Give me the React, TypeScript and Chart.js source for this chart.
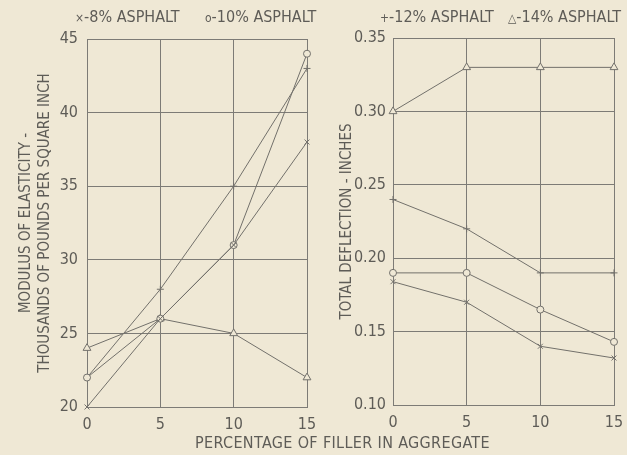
import React, { useEffect, useRef } from "react";
import { Chart, registerables } from "chart.js";

Chart.register(...registerables);

const fillerPct = [0, 5, 10, 15];
const modulus8 = [20, 26, 31, 38];
const modulus10 = [22, 26, 31, 44];
const modulus12 = [22, 28, 35, 43];
const modulus14 = [24, 26, 25, 22];
const deflection8 = [0.184, 0.17, 0.14, 0.132];
const deflection10 = [0.19, 0.19, 0.165, 0.143];
const deflection12 = [0.24, 0.22, 0.19, 0.19];
const deflection14 = [0.3, 0.33, 0.33, 0.33];
const seriesLabels = ["8% ASPHALT", "10% ASPHALT", "12% ASPHALT", "14% ASPHALT"];
const legendSymbols = ["×", "o", "+", "△"];

const BG = "#efe8d5";
const INK = "#5e5c57";
const LINE = "#72706b";
const GRID = "#7d7b76";
const FONT = "'Liberation Sans Narrow', 'DejaVu Sans Condensed', 'Liberation Sans', sans-serif";

const styles = ["crossRot", "circle", "cross", "triangle"];

function makeDatasets(series: number[][]) {
  return series.map((vals, i) => ({
    label: seriesLabels[i],
    data: fillerPct.map((x, j) => ({ x, y: vals[j] })),
    borderColor: LINE,
    borderWidth: 1,
    pointStyle: styles[i],
    pointRadius: styles[i] === "triangle" ? 4.5 : 3.5,
    pointBorderColor: LINE,
    pointBackgroundColor: BG,
    pointBorderWidth: 1,
    tension: 0,
    fill: false,
    clip: false as any,
  }));
}

function makeConfig(
  series: number[][],
  yMin: number,
  yMax: number,
  yStep: number,
  yTitle: string | string[],
  yWidth: number,
  xHeight: number,
  pad: { top: number; right: number },
  titlePadTop: number,
  yTickPad: number,
  fmt: (v: number) => string
): any {
  return {
    type: "line",
    data: { datasets: makeDatasets(series) },
    options: {
      animation: false,
      responsive: false,
      maintainAspectRatio: false,
      layout: { padding: { top: pad.top, right: pad.right, left: 0, bottom: 0 } },
      plugins: { legend: { display: false }, tooltip: { enabled: false } },
      scales: {
        x: {
          type: "linear",
          min: 0,
          max: 15,
          afterFit: (s: any) => {
            s.height = xHeight;
            s.paddingLeft = 0;
            s.paddingRight = 0;
          },
          afterBuildTicks: (s: any) => {
            s.ticks = fillerPct.map((v) => ({ value: v }));
          },
          ticks: { color: INK, font: { family: FONT, size: 16 }, padding: 8, maxRotation: 0 },
          grid: { color: GRID, lineWidth: 1, drawTicks: false },
          border: { color: GRID, width: 1 },
        },
        y: {
          min: yMin,
          max: yMax,
          afterFit: (s: any) => {
            s.width = yWidth;
            s.paddingTop = 0;
            s.paddingBottom = 0;
          },
          ticks: {
            stepSize: yStep,
            color: INK,
            font: { family: FONT, size: 16 },
            padding: yTickPad,
            callback: (v: number) => fmt(v),
          },
          grid: { color: GRID, lineWidth: 1, drawTicks: false },
          border: { color: GRID, width: 1 },
          title: {
            display: true,
            text: yTitle,
            color: INK,
            font: { family: FONT, size: 15, lineHeight: 1.25 },
            padding: { top: titlePadTop, bottom: 0 },
          },
        },
      },
    },
  };
}

export default function App() {
  const leftRef = useRef<HTMLCanvasElement>(null);
  const rightRef = useRef<HTMLCanvasElement>(null);

  useEffect(() => {
    document.body.style.margin = "0";
    const left = new Chart(
      leftRef.current!,
      makeConfig(
        [modulus8, modulus10, modulus12, modulus14],
        20,
        45,
        5,
        ["MODULUS OF ELASTICITY -", "THOUSANDS OF POUNDS PER SQUARE INCH"],
        87,
        48,
        { top: 39, right: 23 },
        17,
        9,
        (v) => String(v)
      )
    );
    const right = new Chart(
      rightRef.current!,
      makeConfig(
        [deflection8, deflection10, deflection12, deflection14],
        0.1,
        0.35,
        0.05,
        "TOTAL DEFLECTION - INCHES",
        73,
        50,
        { top: 38, right: 13 },
        18,
        7,
        (v) => v.toFixed(2)
      )
    );
    return () => {
      left.destroy();
      right.destroy();
    };
  }, []);

  const legendPos = [75, 205, 380, 508];
  return (
    <div
      style={{
        position: "relative",
        width: 627,
        height: 455,
        background: BG,
        overflow: "hidden",
        fontFamily: FONT,
        color: INK,
      }}
    >
      <canvas ref={leftRef} width={330} height={455} style={{ position: "absolute", left: 0, top: 0, width: 330, height: 455 }} />
      <canvas ref={rightRef} width={307} height={455} style={{ position: "absolute", left: 320, top: 0, width: 307, height: 455 }} />
      {seriesLabels.map((lab, i) => (
        <div
          key={lab}
          style={{ position: "absolute", left: legendPos[i], top: 7, fontSize: 16, lineHeight: "20px", whiteSpace: "nowrap" }}
        >
          <span style={{ fontSize: 12 }}>{legendSymbols[i]}</span>-{lab}
        </div>
      ))}
      <div
        style={{
          position: "absolute",
          left: 195,
          top: 433,
          fontSize: 16,
          lineHeight: "20px",
          whiteSpace: "nowrap",
          letterSpacing: "0.35px",
        }}
      >
        PERCENTAGE OF FILLER IN AGGREGATE
      </div>
    </div>
  );
}
